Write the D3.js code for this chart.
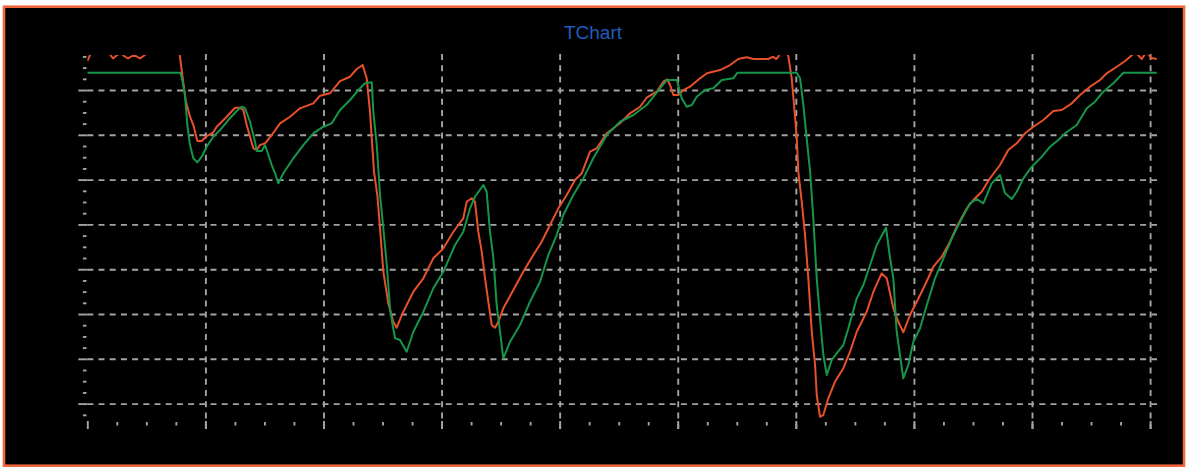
<!DOCTYPE html>
<html><head><meta charset="utf-8">
<script src="https://cdn.jsdelivr.net/npm/d3@7"></script>
<style>html,body{margin:0;padding:0;background:#fff;}svg{display:block;}</style>
</head><body><svg id="c" width="1188" height="467"></svg>
<script>
const chartTitle = "TChart";
const seriesNames = ["Series1", "Series2"];
const seriesColors = ["#e8502a", "#16964a"];
const xDomain = [0, 90.56];
const yDomain = [6.12, 88.04];
const xMajorTicks = [0, 10, 20, 30, 40, 50, 60, 70, 80, 90];
const yMajorTicks = [10, 20, 30, 40, 50, 60, 70, 80];
const minorStep = 2.5;

const redSeries = [
[0,86.47],[0.31,88.26],[1.08,88.93],[1.84,88.26],[2.18,87.03],[2.52,87.81],[2.85,88.26],[3.11,87.59],[3.45,87.03],[3.79,87.59],
[4.12,87.59],[4.46,87.03],[4.88,87.81],[4.97,88.48],[7.43,88.93],[7.77,88.93],[7.85,87.37],[8.08,82.68],[8.36,77.32],[8.70,74.04],
[8.98,72.19],[9.32,68.62],[9.69,68.62],[10.05,69.58],[10.67,70.56],[10.96,71.81],[11.81,74.04],[12.51,76.05],[12.93,76.05],[13.21,75.54],
[13.50,72.19],[14.06,66.99],[14.35,66.61],[14.63,67.72],[15.05,68.10],[15.62,69.96],[16.32,72.57],[17.17,74.04],[18.01,75.91],[19.14,77.03],
[19.71,78.73],[20.55,79.26],[21.40,82.00],[22.25,82.97],[22.82,84.69],[23.32,85.58],[23.66,82.61],[23.94,75.16],[24.28,61.76],[24.56,56.56],
[24.79,49.13],[25.07,39.44],[25.49,32.39],[25.91,28.28],[26.20,26.94],[26.76,30.51],[27.61,34.98],[28.46,37.97],[29.30,42.43],[30.15,44.66],
[31.00,48.37],[31.84,51.36],[32.13,55.07],[32.55,55.83],[32.83,55.07],[33.11,48.37],[33.40,43.91],[33.68,37.97],[33.96,32.75],[34.25,27.54],
[34.53,26.94],[34.81,28.28],[35.23,31.27],[36.08,35.36],[36.92,39.44],[37.77,43.17],[38.48,46.14],[39.18,49.87],[39.89,53.59],[40.60,56.56],
[41.30,59.91],[41.87,61.41],[42.57,66.23],[43.14,66.99],[43.99,70.34],[45.11,72.57],[45.96,74.80],[46.81,76.27],[47.37,78.28],[48.22,79.62],
[48.78,81.85],[49.12,82.39],[49.35,81.12],[49.63,78.88],[50.05,78.88],[50.48,80.00],[51.04,80.74],[51.89,82.61],[52.46,83.73],[53.58,84.46],
[54.43,85.58],[55.13,86.92],[55.84,87.30],[56.40,86.92],[57.67,86.92],[58.08,87.44],[58.33,86.92],[58.52,87.44],[58.66,88.48],[59.26,88.48],
[59.37,87.44],[59.65,82.61],[59.85,76.65],[60.08,69.22],[60.21,61.76],[60.50,55.07],[60.78,47.63],[61.06,37.97],[61.35,26.05],[61.63,18.62],
[61.77,11.92],[62.05,7.07],[62.33,7.45],[62.75,11.18],[63.32,14.89],[64.02,17.88],[64.59,21.59],[65.16,26.05],[66.00,30.51],[66.57,34.98],
[67.27,39.08],[67.70,37.97],[68.26,31.27],[68.68,28.28],[69.10,25.92],[69.67,29.78],[70.24,32.75],[70.94,36.47],[71.65,40.56],[72.36,42.79],
[73.06,46.14],[73.63,49.49],[74.48,53.59],[75.03,55.45],[75.74,57.30],[76.44,60.29],[77.29,63.26],[77.99,66.61],[78.71,68.10],[79.41,70.34],
[80.12,71.81],[80.96,73.30],[81.81,75.31],[82.52,75.54],[83.37,77.03],[84.07,78.88],[84.92,80.74],[85.76,82.23],[86.33,83.73],[87.18,85.20],
[87.88,86.47],[88.31,87.44],[88.73,88.48],[89.30,86.92],[89.66,88.48],[90.14,87.14],[90.56,86.92]
];

const greenSeries = [
[0,83.86],[7.85,83.86],[7.99,82.97],[8.27,78.88],[8.47,72.19],[8.70,67.72],[8.98,64.76],[9.32,63.86],[9.69,65.11],[10.11,67.35],
[10.67,69.58],[11.24,71.07],[11.94,73.30],[12.65,75.31],[13.08,76.27],[13.36,75.91],[13.78,72.92],[14.20,68.46],[14.35,66.38],[14.77,66.38],
[15.05,67.72],[15.62,63.26],[15.90,61.41],[16.18,59.17],[16.60,61.41],[17.45,64.76],[18.29,67.72],[19.14,70.34],[19.99,71.81],[20.70,72.57],
[21.40,75.54],[22.25,77.77],[22.95,80.00],[23.52,81.50],[24.09,81.72],[24.22,75.16],[24.51,67.72],[24.79,56.56],[25.07,49.13],[25.36,40.94],
[25.64,31.27],[25.86,27.54],[26.06,24.58],[26.48,24.20],[27.05,21.59],[27.61,26.05],[28.46,30.51],[29.30,35.74],[30.15,39.44],[31.14,45.40],
[31.84,48.37],[32.41,53.59],[32.83,56.18],[33.54,58.80],[33.82,57.30],[34.10,48.37],[34.39,42.43],[34.67,32.01],[34.95,26.05],[35.23,20.11],
[35.80,23.82],[36.64,27.54],[37.49,32.75],[38.34,37.21],[39.04,43.17],[39.75,47.63],[40.31,52.10],[41.16,56.56],[42.01,60.29],[42.85,64.76],
[43.99,69.96],[45.11,72.92],[46.24,74.42],[47.37,76.65],[48.50,80.38],[49.07,82.23],[49.92,82.23],[50.34,78.15],[50.76,76.27],[51.19,76.65],
[51.61,78.50],[52.31,80.00],[53.01,80.38],[53.73,82.23],[54.71,82.61],[55.05,83.86],[60.08,83.86],[60.36,82.61],[60.64,76.65],[60.92,69.22],
[61.21,61.76],[61.48,51.36],[61.77,37.97],[62.05,29.04],[62.33,20.85],[62.62,16.38],[63.04,19.73],[63.46,21.23],[64.02,23.08],[64.45,26.81],
[65.16,33.50],[65.72,36.47],[66.29,40.94],[66.85,45.40],[67.64,49.26],[67.98,42.43],[68.26,37.97],[68.54,26.05],[68.82,20.85],[69.10,15.65],
[69.52,18.62],[69.95,23.82],[70.52,26.81],[71.09,32.01],[71.79,37.97],[72.50,42.43],[73.21,46.90],[73.91,50.60],[74.75,54.71],[75.32,55.67],
[75.88,54.71],[76.59,59.17],[77.29,61.03],[77.72,56.94],[78.29,55.67],[78.71,57.30],[79.27,60.29],[79.98,62.88],[80.83,65.11],[81.53,67.35],
[82.23,68.84],[82.80,70.34],[83.79,72.19],[84.64,75.91],[85.34,77.39],[86.04,79.62],[86.89,81.50],[87.74,83.86],[90.56,83.86]
];

const W = 1188, H = 467;
const plot = {left: 87.3, right: 1156.7, top: 54, bottom: 421};
const svg = d3.select("#c");
svg.append("rect").attr("width", W).attr("height", H).attr("fill", "#ffffff");
svg.append("rect").attr("x", 4).attr("y", 6.7).attr("width", 1180).attr("height", 459)
  .attr("fill", "#000").attr("stroke", "#f0673d").attr("stroke-width", 2.6);

svg.append("text").attr("x", 593).attr("y", 39).attr("text-anchor", "middle")
  .attr("font-family", "Liberation Sans, Arial, sans-serif").attr("font-size", 19)
  .attr("fill", "#1f5dbd").text(chartTitle);

const x = d3.scaleLinear().domain(xDomain).range([plot.left, plot.right]);
const y = d3.scaleLinear().domain(yDomain).range([plot.bottom, plot.top]);

const gridColor = "#a4a4a4";
const dash = "6,5.2";
const gw = 1.9;

// horizontal grid
const hGrid = svg.append("g").attr("transform", `translate(${plot.left},0)`)
  .call(d3.axisRight(y).tickValues(yMajorTicks).tickSize(1157 - plot.left).tickFormat(""));
hGrid.select(".domain").remove();
hGrid.selectAll("line").attr("stroke", gridColor).attr("stroke-width", gw).attr("stroke-dasharray", dash);

// vertical grid
const vGrid = svg.append("g").attr("transform", `translate(0,${plot.top})`)
  .call(d3.axisBottom(x).tickValues(xMajorTicks.filter(d => d > 0)).tickSize(429 - plot.top).tickFormat(""));
vGrid.select(".domain").remove();
vGrid.selectAll("line").attr("stroke", gridColor).attr("stroke-width", gw).attr("stroke-dasharray", dash);

// y axis ticks
const yMinor = d3.range(0, 100, minorStep).filter(v => v % 10 !== 0 && v >= yDomain[0] && v <= yDomain[1]);
const yMaj = svg.append("g").attr("transform", `translate(${plot.left},0)`)
  .call(d3.axisLeft(y).tickValues(yMajorTicks).tickSize(9).tickFormat(""));
yMaj.select(".domain").remove();
yMaj.selectAll("line").attr("stroke", gridColor).attr("stroke-width", gw);
const yMin = svg.append("g").attr("transform", `translate(${plot.left - 0.8},0)`)
  .call(d3.axisLeft(y).tickValues(yMinor).tickSize(3.6).tickFormat(""));
yMin.select(".domain").remove();
yMin.selectAll("line").attr("stroke", gridColor).attr("stroke-width", gw);

// x axis ticks
const xMinor = d3.range(0, 91, minorStep).filter(v => v % 10 !== 0);
const xMaj = svg.append("g").attr("transform", `translate(0,${plot.bottom})`)
  .call(d3.axisBottom(x).tickValues(xMajorTicks).tickSize(8).tickFormat(""));
xMaj.select(".domain").remove();
xMaj.selectAll("line").attr("stroke", gridColor).attr("stroke-width", gw);
const xMin = svg.append("g").attr("transform", `translate(0,${plot.bottom + 1})`)
  .call(d3.axisBottom(x).tickValues(xMinor).tickSize(3.5).tickFormat(""));
xMin.select(".domain").remove();
xMin.selectAll("line").attr("stroke", gridColor).attr("stroke-width", gw);

// clip
svg.append("clipPath").attr("id", "pc").append("rect")
  .attr("x", plot.left).attr("y", plot.top + 1).attr("width", plot.right - plot.left + 1).attr("height", plot.bottom - plot.top);

const line = d3.line().x(d => x(d[0])).y(d => y(d[1]));
[redSeries, greenSeries].forEach((s, i) => {
  svg.append("path").datum(s).attr("clip-path", "url(#pc)")
    .attr("fill", "none").attr("stroke", seriesColors[i]).attr("stroke-width", 2)
    .attr("stroke-linejoin", "round").attr("d", line);
});
</script></body></html>
